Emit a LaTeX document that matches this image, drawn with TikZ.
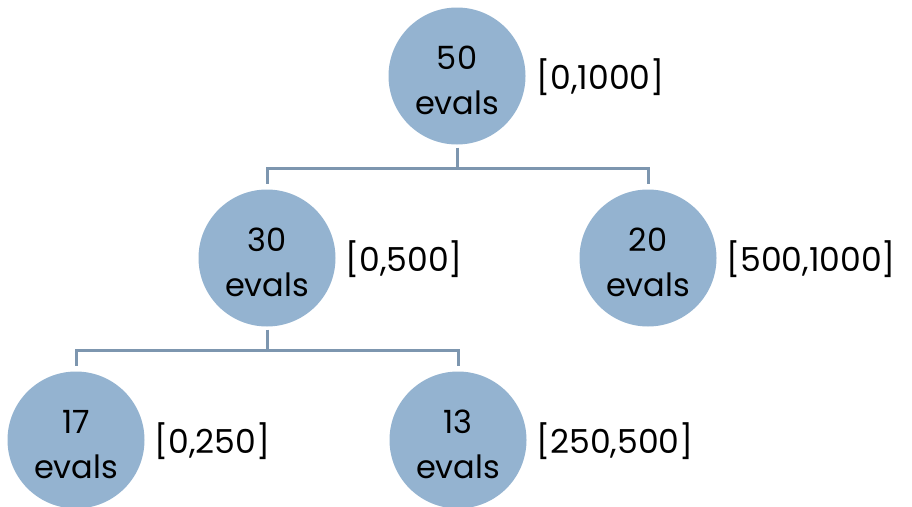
\documentclass[tikz,border=0pt]{standalone}
\usepackage{fontspec}
\setmainfont{Poppins}
\definecolor{nodefill}{RGB}{148,179,208}
\definecolor{linkcol}{RGB}{125,150,175}
% count on the first line, "evals" below it
\newcommand{\evlcount}[1]{\rule{0pt}{33pt}#1\\evals}
\begin{document}
\begin{tikzpicture}[x=1pt,y=-1pt,
  evalnode/.style={circle,fill=nodefill,minimum size=137pt,inner sep=0pt,
    align=center,font=\fontsize{32}{45}\selectfont},
  rangelbl/.style={anchor=west,font=\fontsize{33}{38}\selectfont},
  link/.style={draw=linkcol,line width=3pt}]
\useasboundingbox (0,0) rectangle (912,506);
% nodes
\node[evalnode] (n50) at (457,76) {\evlcount{50}};
\node[evalnode] (n30) at (267,258) {\evlcount{30}};
\node[evalnode] (n20) at (648,258) {\evlcount{20}};
\node[evalnode] (n17) at (76,440) {\evlcount{17}};
\node[evalnode] (n13) at (458,440) {\evlcount{13}};
% interval labels
\node[rangelbl] (l50) at (533,77) {[0,1000]};
\node[rangelbl] (l30) at (342,259) {[0,500]};
\node[rangelbl] (l20) at (723,259) {[500,1000]};
\node[rangelbl] (l17) at (151,441) {[0,250]};
\node[rangelbl] (l13) at (533,441) {[250,500]};
% tree connectors
\draw[link] ([yshift=-3pt]n50.south) -- ++(0,21) -| ([yshift=5pt]n30.north);
\draw[link] ([yshift=-3pt]n50.south) ++(0,21) -| ([yshift=5pt]n20.north);
\draw[link] ([yshift=-3pt]n30.south) -- ++(0,21) -| ([yshift=5pt]n17.north);
\draw[link] ([yshift=-3pt]n30.south) ++(0,21) -| ([yshift=5pt]n13.north);
\end{tikzpicture}
\end{document}
